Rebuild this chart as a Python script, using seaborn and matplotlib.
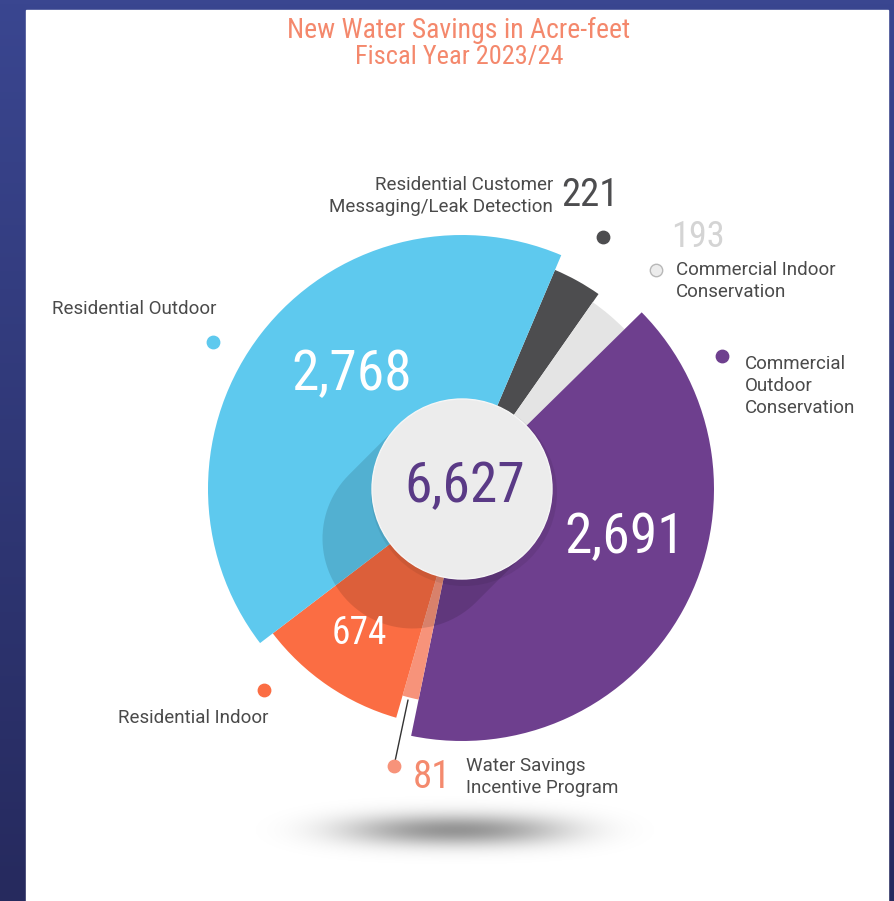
import numpy as np
import matplotlib
matplotlib.use("Agg")
import matplotlib.pyplot as plt
import matplotlib.patches as mpatches
import seaborn as sns
from matplotlib import font_manager

# data, clockwise from the top
categories = ["Residential Customer Messaging/Leak Detection", "Commercial Indoor Conservation",
              "Commercial Outdoor Conservation", "Water Savings Incentive Program",
              "Residential Indoor", "Residential Outdoor"]
values = [221, 193, 2691, 81, 674, 2768]
value_labels = ["221", "193", "2,691", "81", "674", "2,768"]
total_label = "6,627"
title_lines = ["New Water Savings in Acre-feet", "Fiscal Year 2023/24"]

# styles
colors = ["#4d4d4f", "#e4e4e4", "#6e3f8e", "#f7937a", "#fb6d43", "#5ec9ee"]
radii = [238, 228, 252, 215, 238, 254]
start_deg = 23.0

sns.set_theme(style="white")
names = {f.name for f in font_manager.fontManager.ttflist}
narrow = [n for n in ["Roboto Condensed", "Liberation Sans Narrow", "DejaVu Sans"] if n in names]
label_font = ["Roboto", "DejaVu Sans"]

W, H = 894, 901
fig = plt.figure(figsize=(W / 100, H / 100), dpi=100)

# background + card
bg = fig.add_axes([0, 0, 1, 1])
bg.set_xlim(0, W)
bg.set_ylim(H, 0)
bg.axis("off")
grad = np.linspace(0, 1, 256)[:, None]
navy = matplotlib.colors.LinearSegmentedColormap.from_list("navy", ["#3a4690", "#262a5e"])
bg.imshow(grad, cmap=navy, extent=[0, W, H, 0], aspect="auto", zorder=0)
bg.add_patch(mpatches.Rectangle((26, 10), 862, H, color="white", zorder=1))

# soft floor shadow
gx, gy = np.meshgrid(np.linspace(230, 690, 300), np.linspace(790, 875, 80))
alpha = 0.42 * np.exp(-((gx - 455) / 150) ** 4 * 0.6 - ((gx - 455) / 120) ** 2 - ((gy - 830) / 16) ** 2)
shadow = np.zeros(gx.shape + (4,))
shadow[..., 3] = alpha
bg.imshow(shadow, extent=[230, 690, 875, 790], aspect="auto", zorder=2, interpolation="bilinear")
bg.set_xlim(0, W)
bg.set_ylim(H, 0)

# pie as polar bars
cx, cy = 462, 489
R = 260
pax = fig.add_axes([(cx - R) / W, (H - cy - R) / H, 2 * R / W, 2 * R / H], projection="polar")
pax.set_theta_zero_location("N")
pax.set_theta_direction(-1)
widths = np.array(values) / sum(values) * 2 * np.pi
starts = np.deg2rad(start_deg) + np.concatenate([[0], np.cumsum(widths)[:-1]])
pax.bar(starts, radii, width=widths, align="edge", color=colors, edgecolor="none")
pax.set_ylim(0, R)
pax.axis("off")
pax.patch.set_alpha(0)

# overlay
ov = fig.add_axes([0, 0, 1, 1])
ov.set_xlim(0, W)
ov.set_ylim(H, 0)
ov.axis("off")
ov.patch.set_alpha(0)

# shadow capsule under the centre disc
r0 = 90
phi = np.deg2rad(135)
d = np.array([np.cos(phi), np.sin(phi)])
c2 = np.array([cx, cy]) + 70 * d
a1 = np.linspace(phi - np.pi / 2, phi + np.pi / 2, 60)
a2 = np.linspace(phi + np.pi / 2, phi + 3 * np.pi / 2, 60)
pts = np.vstack([np.c_[c2[0] + r0 * np.cos(a1), c2[1] + r0 * np.sin(a1)],
                 np.c_[cx + r0 * np.cos(a2), cy + r0 * np.sin(a2)]])
ov.add_patch(mpatches.Polygon(pts, closed=True, color="black", alpha=0.12, lw=0, zorder=1))
ov.add_patch(mpatches.Circle((cx + 2, cy + 4), r0 + 3, color="black", alpha=0.07, lw=0, zorder=2))
ov.add_patch(mpatches.Circle((cx, cy), r0, facecolor="#ececec", edgecolor="#f6f6f6", lw=1, zorder=3))

big = dict(family=narrow, fontstretch="condensed", ha="center", va="center", zorder=5)
ov.text(cx + 3, cy - 2, total_label, color="#5a3a86", fontsize=40, **big)
ov.text(352, 375, value_labels[5], color="white", fontsize=40, **big)
ov.text(625, 538, value_labels[2], color="white", fontsize=40, **big)
ov.text(359, 634, value_labels[4], color="white", fontsize=27, **big)
ov.text(590, 195, value_labels[0], color="#4d4d4f", fontsize=28, **big)
ov.text(698, 237, value_labels[1], color="#d4d4d4", fontsize=26, **big)
ov.text(432, 778, value_labels[3], color="#f48a6e", fontsize=28, **big)

ov.text(W / 2 + 12, 30, title_lines[0], color="#f4886c", fontsize=20, family=narrow,
        fontstretch="condensed", ha="center", va="center")
ov.text(W / 2 + 12, 57, title_lines[1], color="#f4886c", fontsize=19, family=narrow,
        fontstretch="condensed", ha="center", va="center")

lab = dict(family=label_font, color="#4a4a4a", fontsize=13.5, va="center", linespacing=1.3)
ov.text(553, 196, "Residential Customer\nMessaging/Leak Detection", ha="right",
        multialignment="right", **lab)
ov.text(676, 281, "Commercial Indoor\nConservation", ha="left", **lab)
ov.text(745, 386, "Commercial\nOutdoor\nConservation", ha="left", **lab)
ov.text(52, 309, "Residential Outdoor", ha="left", **lab)
ov.text(118, 718, "Residential Indoor", ha="left", **lab)
ov.text(466, 777, "Water Savings\nIncentive Program", ha="left", **lab)

# marker dots
ov.plot([394, 408], [766, 700], color="#333333", lw=1, zorder=4)
dots = [(603, 237, colors[0], colors[0]), (656, 270, "#ececec", "#b8b8b8"),
        (722, 356, colors[2], colors[2]), (213, 342, colors[5], colors[5]),
        (264, 690, colors[4], colors[4]), (394, 766, colors[3], colors[3])]
for x, y, fc, ec in dots:
    ov.scatter([x], [y], s=80, color=fc, edgecolors=ec, linewidths=1, zorder=6)

fig.savefig("out.png", dpi=100)
